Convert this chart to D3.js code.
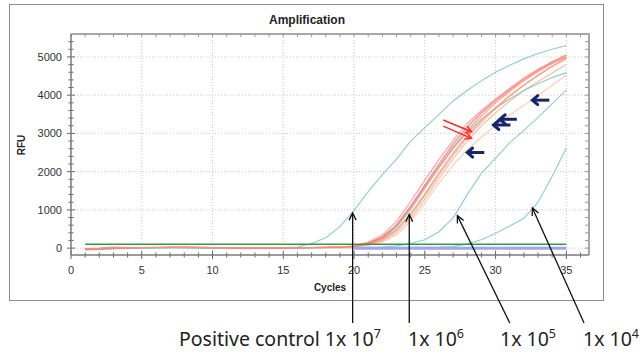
<!DOCTYPE html>
<html>
<head>
<meta charset="utf-8">
<script src="https://cdn.jsdelivr.net/npm/d3@7"></script>
<style>
  body { margin: 0; background: #fff; }
  svg { display: block; }
</style>
</head>
<body>
<svg id="chart" width="644" height="355"></svg>
<script>
// cycles 1..35
const cycles = [1,2,3,4,5,6,7,8,9,10,11,12,13,14,15,16,17,18,19,20,21,22,23,24,25,26,27,28,29,30,31,32,33,34,35];

// positive control 1x10^7
const pc7 = [-20,-25,-10,0,5,5,10,10,5,5,0,0,5,5,10,30,120,270,560,990,1480,1920,2330,2800,3150,3500,3850,4120,4380,4600,4780,4950,5090,5200,5300];

// 1x10^6 replicates
const r1 = [-30,-10,20,10,15,15,20,20,15,10,5,5,5,5,5,10,15,25,35,60,160,340,700,1220,1780,2320,2820,3260,3600,3900,4180,4450,4680,4880,5060];
const r2 = [-40,-20,10,5,10,15,20,20,15,10,5,0,0,0,5,10,15,20,30,50,130,290,600,1100,1650,2200,2720,3170,3540,3860,4150,4420,4660,4860,5040];
const r3 = [-20,0,30,15,15,20,20,20,15,10,10,5,5,5,5,10,15,20,30,45,120,280,580,1060,1600,2140,2640,3080,3460,3800,4100,4380,4620,4830,5000];
const t6 = [-50,-40,-20,-5,5,10,15,15,10,10,5,5,0,0,0,5,10,15,20,40,110,250,540,1000,1560,2100,2600,3030,3380,3660,3900,4120,4300,4460,4590];
const o1 = [-30,-20,0,5,10,15,20,20,20,15,10,5,5,5,5,10,10,15,25,40,100,230,480,900,1420,1980,2500,2960,3350,3680,3990,4270,4520,4760,4980];
const o2 = [-25,-15,0,5,10,15,15,20,20,15,10,5,5,5,5,5,10,15,20,30,80,190,400,780,1280,1820,2340,2800,3200,3540,3850,4120,4360,4580,4800];
const o3 = [-35,-25,-5,0,10,10,15,20,20,15,10,10,5,5,5,5,10,10,20,25,70,160,340,700,1180,1700,2170,2580,2900,3200,3480,3740,3990,4260,4530];
const o4 = [-20,-10,10,10,15,15,20,20,20,15,10,5,5,5,5,10,10,15,25,35,95,220,460,870,1380,1920,2440,2900,3300,3650,3970,4260,4520,4750,4950];

// 1x10^5 and 1x10^4
const t5 = [-10,-15,-5,0,5,5,10,10,5,5,5,5,5,5,5,5,10,10,10,15,20,30,60,120,220,430,790,1400,1960,2350,2760,3080,3420,3780,4140];
const t4 = [-15,-10,0,5,5,10,10,10,5,5,5,5,5,5,5,5,5,10,10,10,10,15,15,20,20,25,40,110,220,390,580,780,1200,1880,2620];

// threshold (green) and negative (blue)
const thresh = [100,100,100,100,100,100,100,100,100,100,100,100,100,100,100,100,100,100,100,100,100,100,100,100,100,100,100,100,100,100,100,100,100,100,100];
const negCtrl = [null,null,null,null,null,null,null,null,null,null,null,null,null,null,null,null,null,null,null,-5,-5,-5,-5,-5,-5,-5,-5,-5,-5,-5,-5,-5,-5,-5,-5];

const series = [
  { name: "t4", values: t4, color: "#7cc6c4" },
  { name: "t5", values: t5, color: "#7cc6c4" },
  { name: "pc7", values: pc7, color: "#7cc6c4" },
  { name: "o3", values: o3, color: "#ffc2a6" },
  { name: "o2", values: o2, color: "#ffb090" },
  { name: "t6", values: t6, color: "#7cc6c4" },
  { name: "o1", values: o1, color: "#ffa080" },
  { name: "o4", values: o4, color: "#ff9470" },
  { name: "r3", values: r3, color: "#ff8070" },
  { name: "r2", values: r2, color: "#ff6a66" },
  { name: "r1", values: r1, color: "#ff9090" }
];

const xMajor = [0,5,10,15,20,25,30,35];
const yMajor = [0,1000,2000,3000,4000,5000];

// annotations: label pieces, arrow tip [cycle, RFU], foot x in cycles
const labelParts = [
  { text: "Positive control 1x 10", sup: "7", x: 179, tip: [19.9, 920], foot: 19.9 },
  { text: "1x 10", sup: "6", x: 408, tip: [23.9, 880], foot: 23.9 },
  { text: "1x 10", sup: "5", x: 500, tip: [27.3, 850], foot: 31.0 },
  { text: "1x 10", sup: "4", x: 583, tip: [32.6, 1050], foot: 36.25 }
];
// navy arrows pointing left: tip [cycle, RFU]
const navyArrows = [[32.6, 3870], [30.3, 3370], [29.85, 3220], [28.0, 2500]];
// red arrows: from [cycle, RFU] to [cycle, RFU]
const redArrows = [
  [[26.3, 3350], [28.3, 3045]],
  [[26.3, 3190], [28.3, 2870]]
];

const svg = d3.select("#chart");

const x = d3.scaleLinear().domain([0, 36.6]).range([71, 589]);
const y = d3.scaleLinear().domain([-180, 5600]).range([255, 34]);

// outer frame
svg.append("rect")
  .attr("x", 9.5).attr("y", 4.5)
  .attr("width", 594).attr("height", 296)
  .attr("fill", "#fff")
  .attr("stroke", "#8c8c8c");

svg.append("text")
  .attr("x", 307).attr("y", 24)
  .attr("text-anchor", "middle")
  .attr("font-family", "Liberation Sans, Arial, sans-serif")
  .attr("font-weight", "bold")
  .attr("font-size", 12)
  .attr("fill", "#222")
  .text("Amplification");

// grid
const grid = svg.append("g");
grid.selectAll(".gx").data(xMajor.filter(d => d > 0)).join("line")
  .attr("x1", d => x(d)).attr("x2", d => x(d))
  .attr("y1", y.range()[1]).attr("y2", y.range()[0])
  .attr("stroke", "#c8c8c8").attr("stroke-dasharray", "1,2");
grid.selectAll(".gy").data(yMajor).join("line")
  .attr("x1", x.range()[0]).attr("x2", x.range()[1])
  .attr("y1", d => y(d)).attr("y2", d => y(d))
  .attr("stroke", "#c8c8c8").attr("stroke-dasharray", "1,2");

// box top/right
svg.append("path")
  .attr("d", `M${x.range()[0]},${y.range()[1]}H${x.range()[1]}V${y.range()[0]}`)
  .attr("fill", "none").attr("stroke", "#a8a8a8").attr("stroke-width", 2);

// ticks
const minorX = d3.range(0, 37);
const minorY = d3.range(0, 5600, 200);
const ticks = svg.append("g").attr("stroke", "#666").attr("stroke-width", 1);
ticks.selectAll(".tb").data(minorX).join("line")
  .attr("x1", d => x(d)).attr("x2", d => x(d))
  .attr("y1", d => d % 5 === 0 ? 251 : 252.5).attr("y2", d => d % 5 === 0 ? 259 : 257.5);
ticks.selectAll(".tt").data(minorX).join("line")
  .attr("x1", d => x(d)).attr("x2", d => x(d))
  .attr("y1", 34).attr("y2", 37).attr("stroke", "#999");
ticks.selectAll(".tl").data(minorY).join("line")
  .attr("y1", d => y(d)).attr("y2", d => y(d))
  .attr("x1", d => d % 1000 === 0 ? 67 : 68.5).attr("x2", d => d % 1000 === 0 ? 75 : 73.5);
ticks.selectAll(".tr").data(minorY).join("line")
  .attr("y1", d => y(d)).attr("y2", d => y(d))
  .attr("x1", 585).attr("x2", 589).attr("stroke", "#999");

// axis lines
svg.append("line").attr("x1", 71).attr("x2", 589).attr("y1", 255).attr("y2", 255)
  .attr("stroke", "#7a7a7a").attr("stroke-width", 1.5);
svg.append("line").attr("x1", 71).attr("x2", 71).attr("y1", 34).attr("y2", 255)
  .attr("stroke", "#7a7a7a").attr("stroke-width", 1.5);

// tick labels
const lab = svg.append("g")
  .attr("font-family", "Liberation Sans, Arial, sans-serif")
  .attr("font-size", 11).attr("fill", "#333");
lab.selectAll(".lx").data(xMajor).join("text")
  .attr("x", d => x(d)).attr("y", 274)
  .attr("text-anchor", "middle").text(d => d);
lab.selectAll(".ly").data(yMajor).join("text")
  .attr("x", 62).attr("y", d => y(d) + 4)
  .attr("text-anchor", "end").text(d => d);

svg.append("text")
  .attr("x", 330).attr("y", 291)
  .attr("text-anchor", "middle")
  .attr("font-family", "Liberation Sans, Arial, sans-serif")
  .attr("font-weight", "bold").attr("font-size", 10).attr("fill", "#222")
  .text("Cycles");
svg.append("text")
  .attr("transform", "translate(25,145) rotate(-90)")
  .attr("text-anchor", "middle")
  .attr("font-family", "Liberation Sans, Arial, sans-serif")
  .attr("font-weight", "bold").attr("font-size", 10).attr("fill", "#222")
  .text("RFU");

// curves
const line = d3.line()
  .defined(d => d[1] != null)
  .x(d => x(d[0]))
  .y(d => y(d[1]));

const curves = svg.append("g").attr("fill", "none");
curves.selectAll("path").data(series).join("path")
  .attr("d", s => line(cycles.map((c, i) => [c, s.values[i]])))
  .attr("stroke", s => s.color)
  .attr("stroke-width", 1.15)
  .attr("stroke-opacity", 0.85);

curves.append("path")
  .attr("d", line(cycles.map((c, i) => [c, negCtrl[i]])))
  .attr("stroke", "#a3a3f5").attr("stroke-width", 3);

curves.append("path")
  .attr("d", line(cycles.map((c, i) => [c, thresh[i]])))
  .attr("stroke", "#2f9e3a").attr("stroke-width", 1.5);

// annotations
const ann = svg.append("g");
function chevron(tx, ty, fx, fy, len, spread) {
  const a = Math.atan2(fy - ty, fx - tx);
  const p1 = [tx + len * Math.cos(a + spread), ty + len * Math.sin(a + spread)];
  const p2 = [tx + len * Math.cos(a - spread), ty + len * Math.sin(a - spread)];
  return `M${p1[0]},${p1[1]}L${tx},${ty}L${p2[0]},${p2[1]}`;
}

labelParts.forEach(d => {
  const tx = x(d.tip[0]), ty = y(d.tip[1]);
  const fx = x(d.foot), fy = 323;
  ann.append("line")
    .attr("x1", fx).attr("y1", fy).attr("x2", tx).attr("y2", ty)
    .attr("stroke", "#111").attr("stroke-width", 1.3);
  ann.append("path")
    .attr("d", chevron(tx, ty, fx, fy, 8, 0.45))
    .attr("fill", "none").attr("stroke", "#111").attr("stroke-width", 1.3);
  const t = ann.append("text")
    .attr("x", d.x).attr("y", 346)
    .attr("font-family", "Noto Sans, sans-serif")
    .attr("font-size", 19.5).attr("fill", "#222");
  t.append("tspan").text(d.text);
  t.append("tspan").attr("dy", -8).attr("font-size", 12.5).text(d.sup);
});

navyArrows.forEach(d => {
  const tx = x(d[0]), ty = y(d[1]);
  const fx = tx + 17;
  ann.append("line")
    .attr("x1", tx + 1).attr("y1", ty).attr("x2", fx).attr("y2", ty)
    .attr("stroke", "#14266a").attr("stroke-width", 3);
  ann.append("path")
    .attr("d", chevron(tx, ty, fx, ty, 7, 0.7))
    .attr("fill", "none").attr("stroke", "#14266a").attr("stroke-width", 3)
    .attr("stroke-linecap", "round");
});

redArrows.forEach(d => {
  const fx = x(d[0][0]), fy = y(d[0][1]);
  const tx = x(d[1][0]), ty = y(d[1][1]);
  ann.append("line")
    .attr("x1", fx).attr("y1", fy).attr("x2", tx).attr("y2", ty)
    .attr("stroke", "#ff2a2a").attr("stroke-width", 1.5);
  ann.append("path")
    .attr("d", chevron(tx, ty, fx, fy, 7, 0.5))
    .attr("fill", "none").attr("stroke", "#ff2a2a").attr("stroke-width", 1.5);
});
</script>
</body>
</html>
